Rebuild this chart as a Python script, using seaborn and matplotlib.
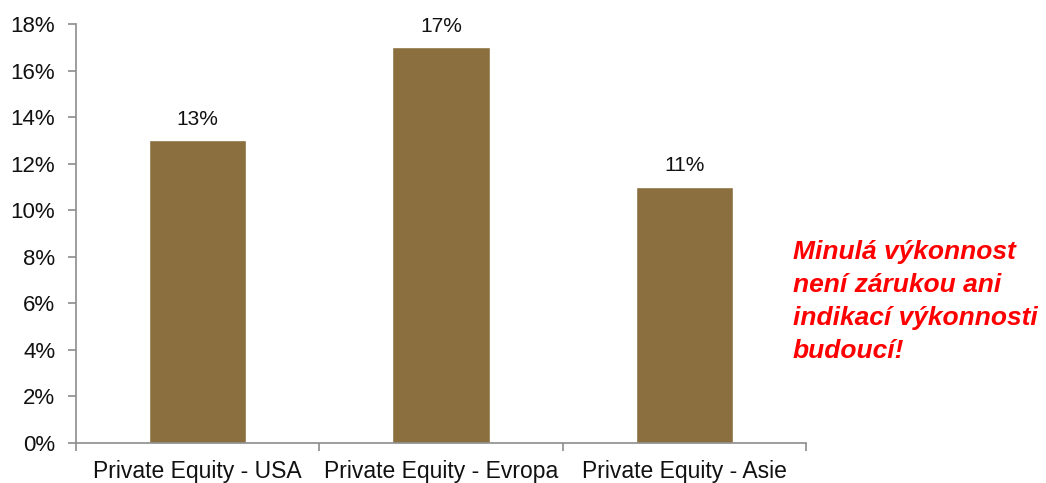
import matplotlib
matplotlib.use("Agg")
import matplotlib.pyplot as plt
import seaborn as sns
import pandas as pd
from matplotlib.ticker import FuncFormatter

categories = ["Private Equity - USA", "Private Equity - Evropa", "Private Equity - Asie"]
returns_pct = [13, 17, 11]
note_lines = ["Minulá výkonnost", "není zárukou ani", "indikací výkonnosti", "budoucí!"]

sns.set_style("white")
plt.rcParams["font.family"] = ["Liberation Sans", "DejaVu Sans"]

df = pd.DataFrame({"kategorie": categories, "vynos": returns_pct})

fig = plt.figure(figsize=(10.46, 4.83), dpi=100)
ax = fig.add_axes([76 / 1046, 1 - 443 / 483, 730 / 1046, 419 / 483])

sns.barplot(data=df, x="kategorie", y="vynos", color="#8B6F3F", saturation=1,
            width=0.4, ax=ax)

ax.set_ylim(0, 18)
ax.set_xlim(-0.5, 2.5)
ax.set_yticks(range(0, 19, 2))
ax.yaxis.set_major_formatter(FuncFormatter(lambda v, p: f"{int(v)}%"))
ax.set_xlabel("")
ax.set_ylabel("")

for i, v in enumerate(returns_pct):
    ax.text(i, v + 0.5, f"{v}%", ha="center", va="bottom", fontsize=15, color="#111111")

for s in ["top", "right"]:
    ax.spines[s].set_visible(False)
for s in ["left", "bottom"]:
    ax.spines[s].set_color("#8c8c8c")
    ax.spines[s].set_linewidth(1.2)

ax.tick_params(axis="y", left=True, length=6, color="#8c8c8c", width=1.2,
               labelsize=16, pad=9, labelcolor="#111111")
ax.set_xticks([-0.5, 0.5, 1.5, 2.5], minor=True)
ax.tick_params(axis="x", which="major", bottom=False, labelsize=16.5, pad=9,
               labelcolor="#111111")
ax.tick_params(axis="x", which="minor", bottom=True, length=6, color="#8c8c8c", width=1.2)

for j, line in enumerate(note_lines):
    fig.text(793 / 1046, 1 - (252 + j * 33) / 483, line, color="#FF0000", fontsize=19,
             fontweight="bold", fontstyle="italic", va="center", ha="left")

fig.savefig("out.png", dpi=100)
